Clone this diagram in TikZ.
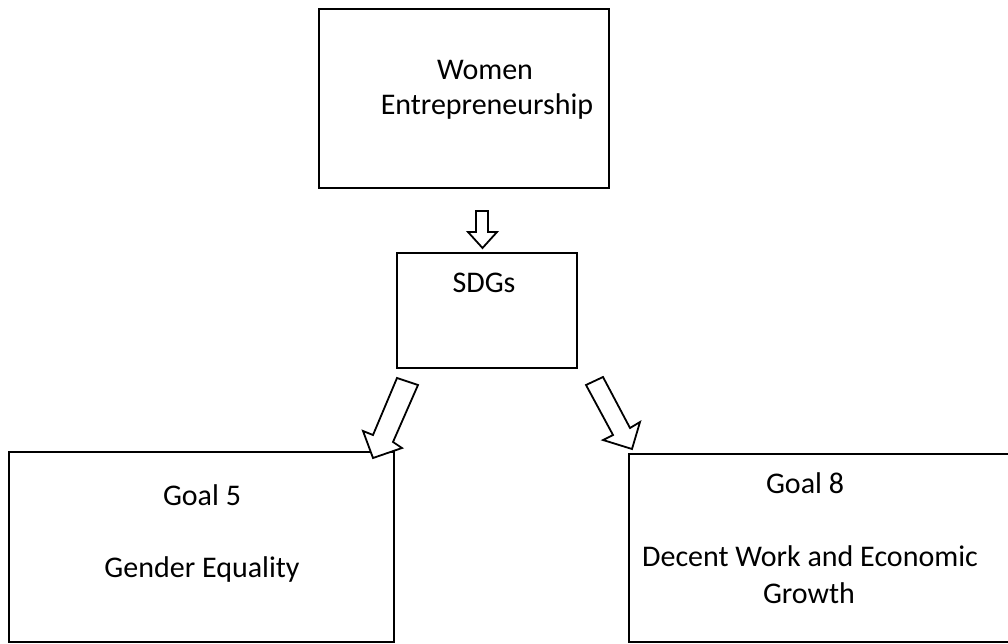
\documentclass[tikz,border=0pt]{standalone}
\usepackage{fontspec}
\setmainfont{Carlito}
\begin{document}
\begin{tikzpicture}[x=1pt,y=-1pt,
  box/.style={draw=black,line width=2.2pt,fill=white,inner sep=0pt},
  label/.style={anchor=base,inner sep=0pt,font=\fontsize{30}{36}\selectfont},
  blockarrow/.style={draw=black,line width=1.8pt,fill=white,line join=miter}]
\useasboundingbox (0,0) rectangle (1008,644);

% boxes
\node[box,minimum width=290pt,minimum height=179pt] (we) at (464,98.5) {};
\node[box,minimum width=180pt,minimum height=115pt] (sdg) at (487,310.5) {};
\node[box,minimum width=385pt,minimum height=190pt] (g5) at (201.5,547) {};
\node[box,minimum width=400pt,minimum height=188pt] (g8) at (829,548) {};

% texts
\node[label] (t1) at (485,80) {Women};
\node[label] (t2) at (487,115) {Entrepreneurship};
\node[label] (t3) at (484,292) {SDGs};
\node[label] (t4) at (202,505) {Goal 5};
\node[label] (t5) at (202,577) {Gender Equality};
\node[label] (t6) at (805,493) {Goal 8};
\node[label] (t7) at (810,566) {Decent Work and Economic};
\node[label] (t8) at (809,603) {Growth};

% block arrows
\draw[blockarrow] (476,211) -- (488,211) -- (488,232) -- (497,232) -- (482.5,248)
  -- (468,232) -- (476,232) -- cycle;
\draw[blockarrow] (397,378) -- (373,435) -- (363,431) -- (373,458) -- (402,448)
  -- (393,442) -- (418,385) -- cycle;
\draw[blockarrow] (586,385) -- (613,435) -- (603,440) -- (632,449) -- (640,422)
  -- (630,428) -- (603,377) -- cycle;
\end{tikzpicture}
\end{document}
